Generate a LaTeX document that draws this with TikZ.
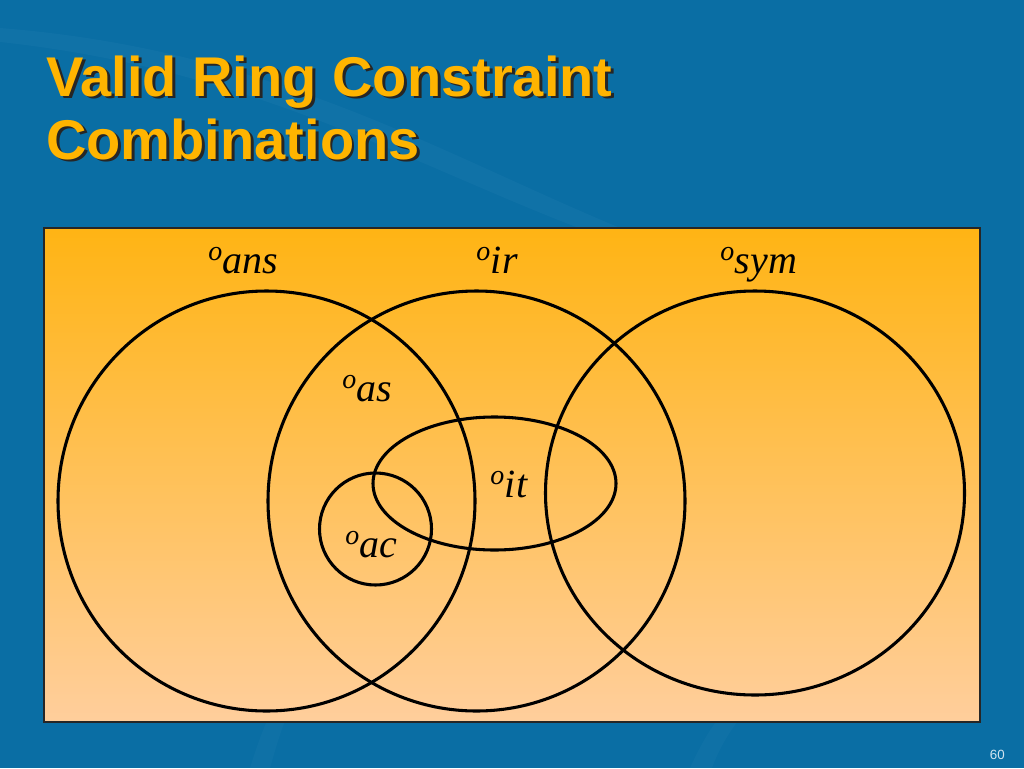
\documentclass[tikz,border=0pt]{standalone}
\usepackage{fontspec}
\setmainfont{Liberation Serif}
\setsansfont{Liberation Sans}

\definecolor{slideblue}{HTML}{0A6EA4}
\definecolor{swooshblue}{HTML}{3F8FBF}
\definecolor{titleyellow}{HTML}{FFB400}
\definecolor{paneltop}{HTML}{FFB414}
\definecolor{panelbottom}{HTML}{FFCE9C}
\definecolor{pagegrey}{HTML}{D2E4F0}

% text with a dark drop shadow under it
\newcommand{\dropshadowtext}[1]{\rlap{\kern2.2pt\raisebox{-2.2pt}{\color{black!85}#1}}#1}

\begin{document}
\begin{tikzpicture}[x=0.75pt,y=-0.75pt,
    ring/.style={line width=2.3pt},
    setlabel/.style={anchor=base west,inner sep=0pt,font=\fontsize{30}{36}\selectfont\itshape},
    titletext/.style={anchor=base west,inner sep=0pt,text=titleyellow,
      font=\sffamily\bfseries\fontsize{42}{48}\selectfont}]

    \useasboundingbox (0,0) rectangle (1024,768);
    \fill[slideblue] (0,0) rectangle (1024,768);

    % background swooshes
    \fill[swooshblue,opacity=0.12] (0,42) .. controls (260,70) and (420,170) .. (600,236)
        -- (640,236) .. controls (450,160) and (280,50) .. (0,28) -- cycle;
    \fill[swooshblue,opacity=0.1] (250,768) .. controls (262,730) and (270,710) .. (285,690)
        -- (300,690) .. controls (285,715) and (278,740) .. (270,768) -- cycle;
    \fill[swooshblue,opacity=0.1] (690,768) .. controls (705,735) and (720,712) .. (745,690)
        -- (765,690) .. controls (740,715) and (722,740) .. (712,768) -- cycle;

    % title
    \node[titletext] (title1) at (46,96) {\dropshadowtext{Valid Ring Constraint}};
    \node[titletext] (title2) at (46,159) {\dropshadowtext{Combinations}};

    % panel
    \shade[top color=paneltop,bottom color=panelbottom] (44,228) rectangle (980,722);
    \draw[line width=1.1pt,black!85] (44,228) rectangle (980,722);

    % sets
    \draw[ring] (266.5,501) ellipse [x radius=208.5,y radius=210];
    \draw[ring] (476.5,501) ellipse [x radius=208.5,y radius=210];
    \draw[ring] (755,493) ellipse [x radius=209.5,y radius=202];
    \draw[ring] (494.5,483.5) ellipse [x radius=121.5,y radius=66.5];
    \draw[ring] (375.5,529) circle (56);

    \node[setlabel] (ans) at (208,273) {\textsuperscript{o}ans};
    \node[setlabel] (ir) at (476,273) {\textsuperscript{o}ir};
    \node[setlabel] (sym) at (720,273) {\textsuperscript{o}sym};
    \node[setlabel] (as) at (342,401) {\textsuperscript{o}as};
    \node[setlabel] (it) at (490,497) {\textsuperscript{o}it};
    \node[setlabel] (ac) at (345,557) {\textsuperscript{o}ac};

    \node[anchor=base east,inner sep=0pt,text=pagegrey,font=\sffamily\fontsize{10}{12}\selectfont]
        (pagenum) at (1005,759) {60};

\end{tikzpicture}
\end{document}
